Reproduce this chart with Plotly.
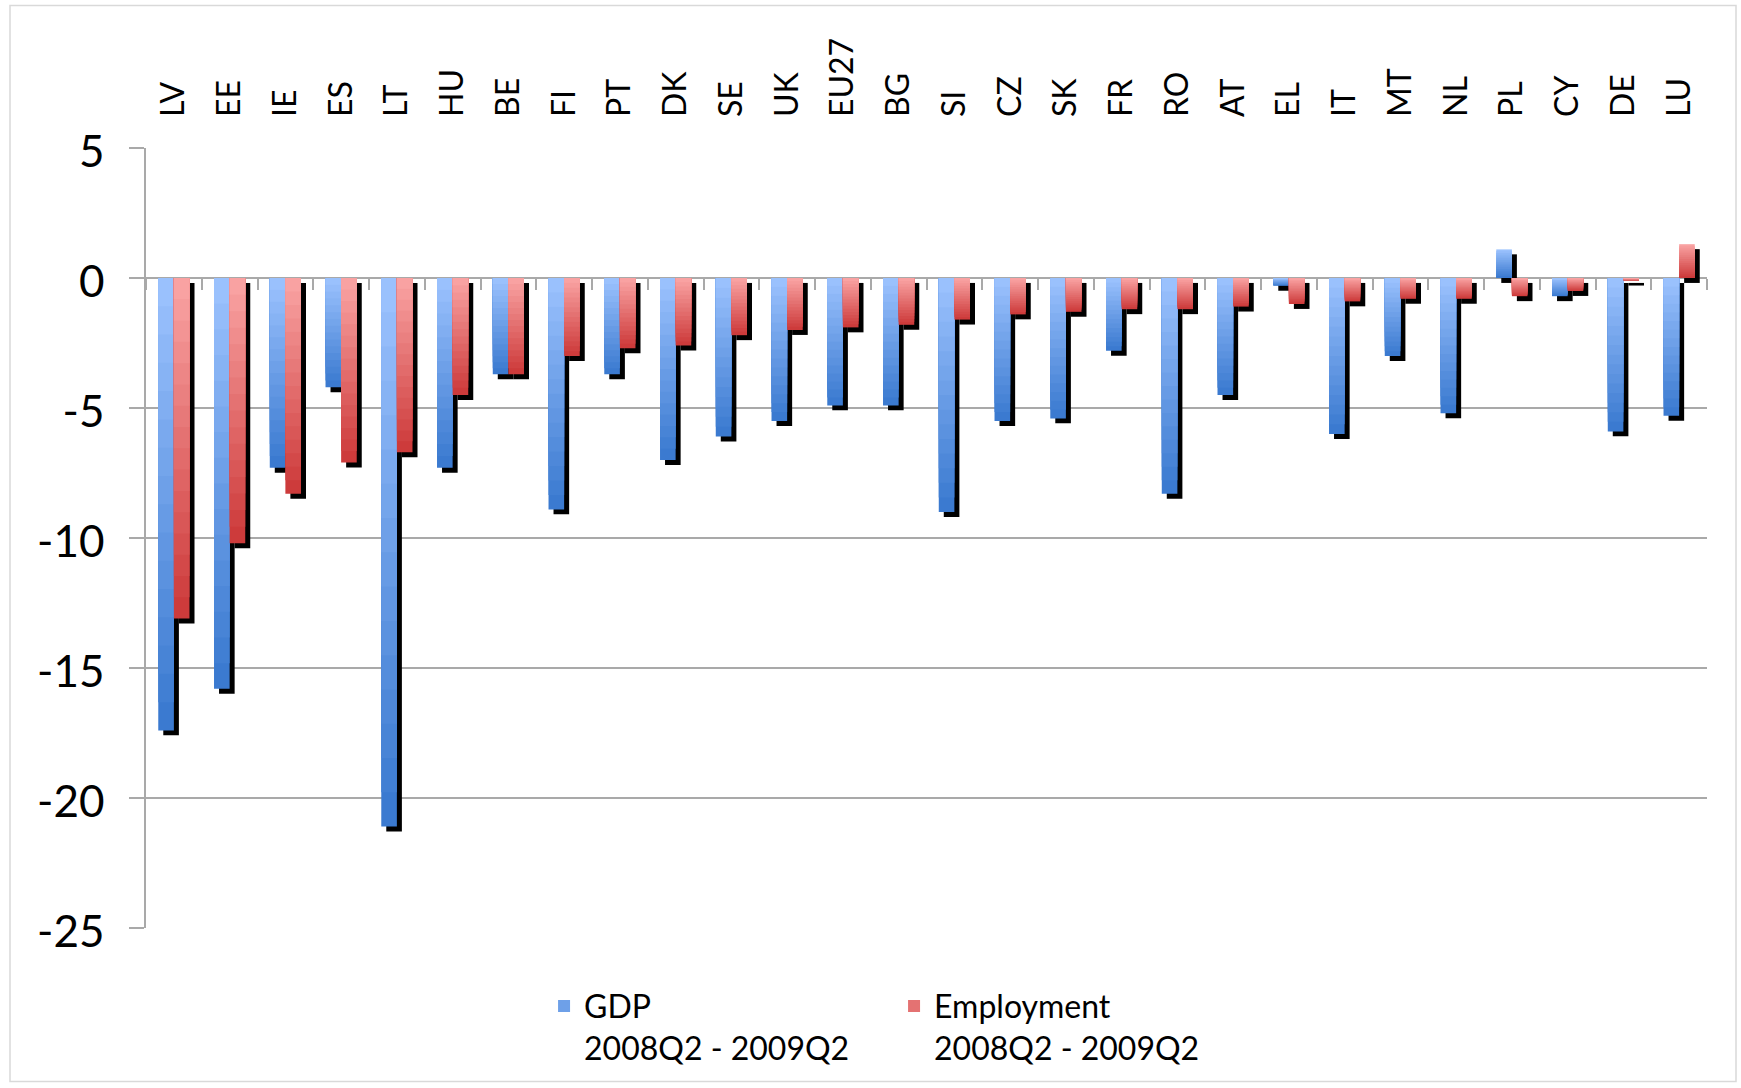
import plotly.graph_objects as go

countries = ["LV", "EE", "IE", "ES", "LT", "HU", "BE", "FI", "PT", "DK", "SE", "UK", "EU27", "BG",
             "SI", "CZ", "SK", "FR", "RO", "AT", "EL", "IT", "MT", "NL", "PL", "CY", "DE", "LU"]
gdp = [-17.4, -15.8, -7.3, -4.2, -21.1, -7.3, -3.7, -8.9, -3.7, -7.0, -6.1, -5.5, -4.9, -4.9,
       -9.0, -5.5, -5.4, -2.8, -8.3, -4.5, -0.3, -6.0, -3.0, -5.2, 1.1, -0.7, -5.9, -5.3]
employment = [-13.1, -10.2, -8.3, -7.1, -6.7, -4.5, -3.7, -3.0, -2.7, -2.6, -2.2, -2.0, -1.9, -1.8,
              -1.6, -1.4, -1.3, -1.2, -1.2, -1.1, -1.0, -0.9, -0.8, -0.8, -0.7, -0.5, -0.1, 1.3]
y_ticks = [5, 0, -5, -10, -15, -20, -25]
y_tick_labels = ["5", "0", "-5", "-10", "-15", "-20", "-25"]
series_names = ["GDP<br>2008Q2 - 2009Q2", "Employment<br>2008Q2 - 2009Q2"]

# style constants
W_FIG, H_FIG = 1741, 1088
M_L, M_R, M_T, M_B = 146, 34, 148, 157
BAR_W = 0.28
SHADOW_DX = 0.09
SHADOW_DY = 0.19
N_LAYERS = 16
GRID = "#a9a9a9"
FONT = "Lato"

blue_top, blue_bot = (157, 195, 255), (56, 120, 206)
red_top, red_bot = (250, 165, 165), (204, 56, 56)


def mix(c1, c2, t):
    return "rgb(%d,%d,%d)" % tuple(round(a + (b - a) * t) for a, b in zip(c1, c2))


fig = go.Figure()


def add_series(values, offset, ctop, cbot, name, lg):
    # drop shadow
    fig.add_trace(go.Bar(
        x=countries, y=values, base=[-SHADOW_DY] * len(values),
        offset=offset + SHADOW_DX, width=BAR_W,
        marker=dict(color="black", line=dict(width=0)),
        showlegend=False, hoverinfo="skip"))
    # gradient layers (light at top of each bar, dark at bottom)
    for j in range(N_LAYERS):
        frac = 1 - j / N_LAYERS
        ys = [v * frac for v in values]
        cols = []
        for v in values:
            d = 1 - (j + 0.5) / N_LAYERS
            t = d if v < 0 else 1 - d
            cols.append(mix(ctop, cbot, t))
        show = (j == N_LAYERS // 2)
        fig.add_trace(go.Bar(
            x=countries, y=ys, offset=offset, width=BAR_W,
            marker=dict(color=cols, line=dict(width=0)),
            name=name, showlegend=show, legendgroup=name, legendrank=lg,
            hoverinfo="skip"))


add_series(gdp, -BAR_W, blue_top, blue_bot, series_names[0], 1)
add_series(employment, 0, red_top, red_bot, series_names[1], 2)

# invisible trace to carry the category boundary ticks on the zero line
fig.add_trace(go.Scatter(x=countries, y=gdp, xaxis="x2", mode="markers",
                         marker=dict(opacity=0), showlegend=False, hoverinfo="skip"))

zero_pos = (0 - y_ticks[-1]) / (y_ticks[0] - y_ticks[-1])

fig.update_layout(
    width=W_FIG, height=H_FIG,
    margin=dict(l=M_L, r=M_R, t=M_T, b=M_B),
    paper_bgcolor="white", plot_bgcolor="white",
    barmode="overlay",
    font=dict(family=FONT, color="black"),
    xaxis=dict(
        type="category", categoryorder="array", categoryarray=countries,
        range=[-0.5, len(countries) - 0.5],
        side="top", tickangle=-90, showgrid=False, showline=False, ticks="",
        tickfont=dict(family=FONT, size=32, color="black"),
        ticklabelstandoff=30,
    ),
    xaxis2=dict(
        type="category", categoryorder="array", categoryarray=countries,
        range=[-0.5, len(countries) - 0.5],
        overlaying="x", anchor="free", position=zero_pos, side="bottom",
        showticklabels=False, showgrid=False, showline=False,
        ticks="outside", ticklen=11, tickwidth=1.5, tickcolor=GRID,
        tickson="boundaries",
    ),
    yaxis=dict(
        range=[y_ticks[-1], y_ticks[0]], tickmode="array",
        tickvals=y_ticks, ticktext=y_tick_labels,
        showgrid=True, gridcolor=GRID, gridwidth=1.5,
        zeroline=True, zerolinecolor=GRID, zerolinewidth=1.5,
        showline=True, linecolor=GRID, linewidth=1.5,
        ticks="outside", ticklen=15, tickwidth=1.5, tickcolor=GRID,
        tickfont=dict(family=FONT, size=44, color="black"),
        ticklabelstandoff=16, ticklabelshift=4,
    ),
    legend=dict(
        orientation="h", x=0.255, y=-0.065, xanchor="left", yanchor="top",
        font=dict(family=FONT, size=32, color="black"),
        valign="top", entrywidth=305, entrywidthmode="pixels",
        bgcolor="rgba(0,0,0,0)",
    ),
    shapes=[dict(
        type="rect", xref="paper", yref="paper",
        x0=(10 - M_L) / (W_FIG - M_L - M_R), x1=(1736 - M_L) / (W_FIG - M_L - M_R),
        y0=-(1085 - (H_FIG - M_B)) / (H_FIG - M_T - M_B), y1=1 + (M_T - 5) / (H_FIG - M_T - M_B),
        line=dict(color="#d9d9d9", width=1.5), fillcolor="rgba(0,0,0,0)", layer="below",
    )],
)

fig.write_html("out.html")
